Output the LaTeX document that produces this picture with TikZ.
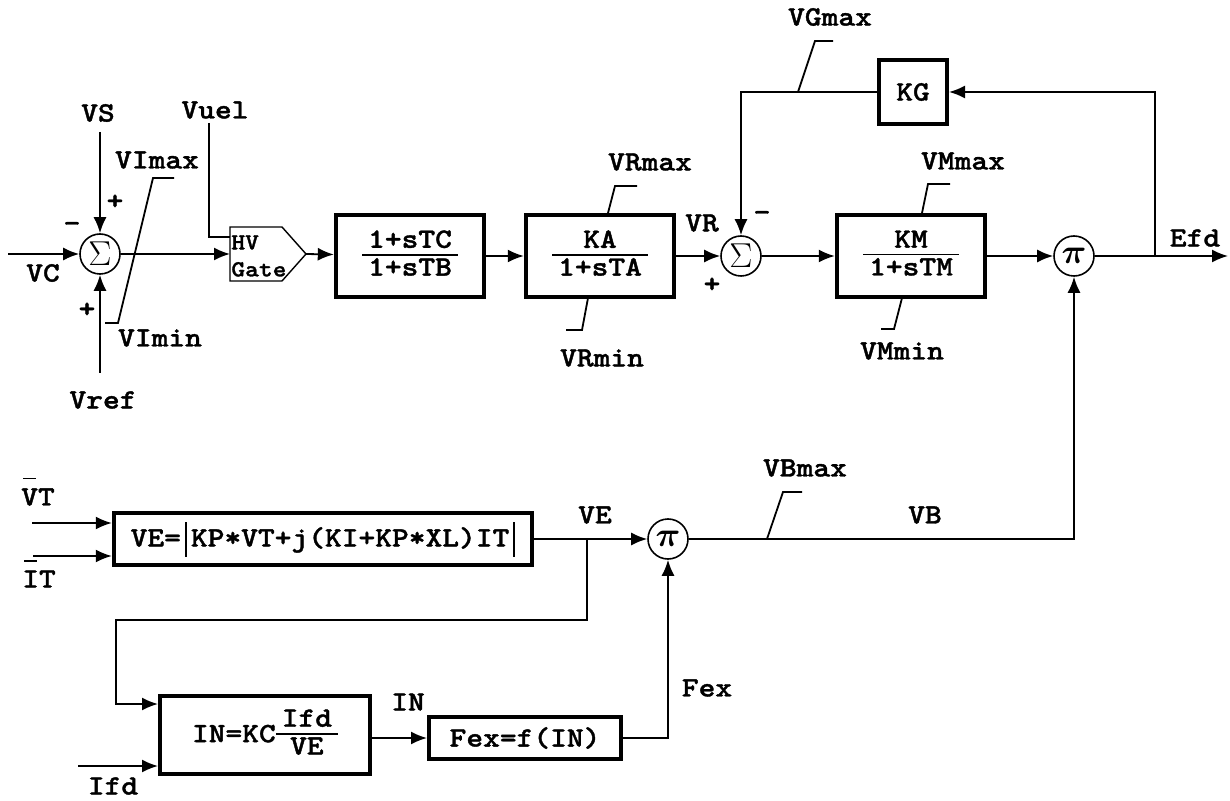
\documentclass[tikz,border=0pt]{standalone}
\usepackage{fontspec}
\setmainfont{lmmonolt10-bold}[Extension=.otf, FakeStretch=1.14, FakeBold=1.3]
\usepackage{amsmath}
\usepackage{bm}
\usetikzlibrary{arrows.meta,calc}

% stacked transfer function with a rule between
\newcommand{\blkfrac}[2]{{\renewcommand{\arraystretch}{0}\setlength{\arrayrulewidth}{0.9pt}%
  \begin{tabular}{@{\hspace{3pt}}c@{\hspace{3pt}}}\rule[-3pt]{0pt}{10pt}#1\\\hline\rule[-3pt]{0pt}{13pt}#2\end{tabular}}}
\newcommand{\barred}[1]{\makebox[0pt][l]{\hspace{1pt}\smash{\rule[13pt]{6.5pt}{0.9pt}}}#1}
\newcommand{\absbar}{\rule[-5pt]{1pt}{17.5pt}}

\begin{document}
\begin{tikzpicture}[x={(0.5pt,0)}, y={(0,-0.5pt)},
    lbl/.style={font=\fontsize{14}{16}\selectfont, inner sep=0pt},
    wire/.style={line width=0.9pt},
    sig/.style={wire, -{Latex[length=8pt,width=6.5pt]}},
    limiter/.style={line width=0.9pt},
    blk/.style={draw, line width=2.2pt, inner sep=0pt, font=\fontsize{14}{16}\selectfont},
    junction/.style={draw, circle, line width=0.8pt, minimum size=20pt, inner sep=0pt}]
    \useasboundingbox (0,0) rectangle (1230,801);

    % Voltage regulator path
    \node[junction, font=\fontsize{17}{17}\selectfont] (Sum1) at (100,254) {$\Sigma$};
    \coordinate (VCin) at (8,254);
    \coordinate (VSin) at (100,132);
    \coordinate (VrefIn) at (100,373);
    \coordinate (GateIn) at (230,254);
    \coordinate (GateOut) at (306,254);
    \coordinate (GateAux) at (230,237);
    \coordinate (VuelIn) at (209,123);
    \draw[line width=0.7pt] (230,227) -- (282,227) -- (GateOut) -- (282,281) -- (230,281) -- cycle;
    \node[lbl, font=\fontsize{11.5}{13.5}\selectfont, anchor=west, align=left] (GateTxt) at (231,256) {HV\\Gate};

    \node[blk, minimum width=74pt, minimum height=41pt] (LeadLag) at (410,256) {\blkfrac{1+sTC}{1+sTB}};
    \node[blk, minimum width=74pt, minimum height=41pt] (Amp) at (600,256) {\blkfrac{KA}{1+sTA}};
    \node[junction, font=\fontsize{17}{17}\selectfont] (Sum2) at (741,256) {$\Sigma$};
    \node[blk, minimum width=74pt, minimum height=41pt] (Mag) at (911,256) {\blkfrac{KM}{1+sTM}};
    \node[junction, font=\fontsize{19}{19}\selectfont] (Mult1) at (1074,256) {$\bm{\pi}$};
    \node[blk, line width=2pt, minimum width=34pt, minimum height=32pt] (Kg) at (913,92) {KG};
    \coordinate (EfdOut) at (1228,256);
    \coordinate (Tap) at (1155,256);

    \draw[sig] (VCin) -- (Sum1);
    \draw[sig] (VSin) -- (Sum1);
    \draw[sig] (VrefIn) -- (Sum1);
    \draw[sig] (Sum1) -- (GateIn);
    \draw[wire] (VuelIn) |- (GateAux);
    \draw[sig] (GateOut) -- (LeadLag);
    \draw[sig] (LeadLag) -- (Amp);
    \draw[sig] (Amp) -- (Sum2);
    \draw[sig] (Sum2) -- (Mag);
    \draw[sig] (Mag) -- (Mult1);
    \draw[sig] (Mult1) -- (EfdOut);
    \draw[sig] (Tap) |- (Kg);
    \draw[sig] (Kg) -| (Sum2);

    % Limits
    \draw[limiter] (105,323) -- (118,323) -- (153,178) -- (174,178);
    \draw[limiter] (608,213) -- (615,186) -- (637,186);
    \draw[limiter] (588,298) -- (582,330) -- (566,330);
    \draw[limiter] (922,213) -- (928,184) -- (950,184);
    \draw[limiter] (902,298) -- (894,329) -- (881,329);
    \draw[limiter] (798,92) -- (815,41) -- (833,41);
    \draw[limiter] (767,539) -- (783,492) -- (802,492);

    % Exciter supply
    \node[blk, minimum width=209pt, minimum height=26pt] (VEcalc) at (323,539) {VE=\hspace{2pt}\absbar\hspace{2pt}KP*VT+j(KI+KP*XL)IT\hspace{2pt}\absbar};
    \node[junction, font=\fontsize{19}{19}\selectfont] (Mult2) at (668,539) {$\bm{\pi}$};
    \node[blk, line width=2pt, minimum width=105pt, minimum height=39pt] (Ncalc) at (265,735) {IN=KC\blkfrac{Ifd}{VE}};
    \node[blk, line width=2pt, minimum width=96pt, minimum height=21pt] (Fexf) at (525,738) {Fex=f(IN)};
    \coordinate (VTin) at (32,523);
    \coordinate (ITin) at (33,556);
    \coordinate (VEtap) at (587,539);
    \coordinate (Loop1) at (116,620);
    \coordinate (NinA) at (116,704);
    \coordinate (IfdIn) at (78,766);

    \draw[sig] (VTin) -- (VTin -| VEcalc.west);
    \draw[sig] (ITin) -- (ITin -| VEcalc.west);
    \draw[sig] (VEcalc) -- (Mult2);
    \draw[sig] (VEtap) |- (Loop1) -- (NinA) -- (NinA -| Ncalc.west);
    \draw[sig] (IfdIn) -- (IfdIn -| Ncalc.west);
    \draw[sig] (Ncalc.east |- Fexf.west) -- (Fexf.west);
    \draw[sig] (Fexf.east) -| (Mult2);
    \draw[sig] (Mult2) -| (Mult1);

    % Labels
    \node[lbl] (VSlbl) at (98,113) {VS};
    \node[lbl] (Vuellbl) at (215,110) {Vuel};
    \node[lbl] (VImaxlbl) at (157,160) {VImax};
    \node[lbl] (VIminlbl) at (160,338) {VImin};
    \node[lbl] (Vreflbl) at (103,400) {Vref};
    \node[lbl] (VClbl) at (43,273) {VC};
    \node[lbl] (S1minus) at (72,227) {-};
    \node[lbl] (S1plusA) at (115,202) {+};
    \node[lbl] (S1plusB) at (87,310) {+};
    \node[lbl] (VRmaxlbl) at (650,162) {VRmax};
    \node[lbl] (VRminlbl) at (602,358) {VRmin};
    \node[lbl] (VRlbl) at (702,223) {VR};
    \node[lbl] (S2minus) at (762,216) {-};
    \node[lbl] (S2plus) at (712,285) {+};
    \node[lbl] (VGmaxlbl) at (830,17) {VGmax};
    \node[lbl] (VMmaxlbl) at (963,161) {VMmax};
    \node[lbl] (VMminlbl) at (902,351) {VMmin};
    \node[lbl] (Efdlbl) at (1195,238) {Efd};
    \node[lbl] (VTlbl) at (38,497) {\barred{V}T};
    \node[lbl] (ITlbl) at (39,579) {\barred{I}T};
    \node[lbl] (VElbl) at (595,515) {VE};
    \node[lbl] (VBmaxlbl) at (805,468) {VBmax};
    \node[lbl] (VBlbl) at (925,515) {VB};
    \node[lbl] (Fexlbl) at (707,688) {Fex};
    \node[lbl] (INlbl) at (408,702) {IN};
    \node[lbl] (Ifdlbl) at (113,786) {Ifd};
\end{tikzpicture}
\end{document}
